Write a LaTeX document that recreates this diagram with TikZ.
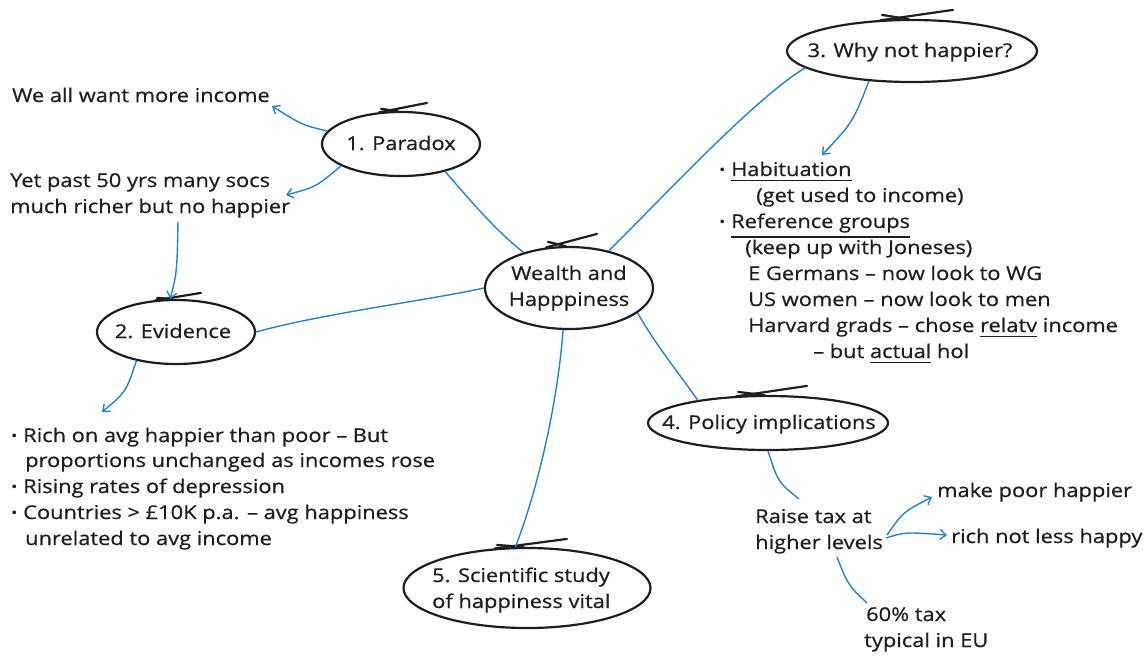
\documentclass[tikz,border=0pt]{standalone}
\usepackage{fontspec}
\setmainfont{Open Sans}[FakeStretch=1.15,FakeBold=0.6]
\usetikzlibrary{shapes.geometric,arrows.meta,calc}
\definecolor{ink}{HTML}{1E1E1E}
\definecolor{linkblue}{HTML}{2384CC}
\newcommand\myul[1]{\setbox0=\hbox{#1}\rlap{\rule[\dimexpr-\dp0-5pt\relax]{\wd0}{1.4pt}}\box0\relax}
\newcommand\mybul{\makebox[13pt][l]{\hspace{1pt}\raisebox{1.5pt}{\fontsize{14}{14}\selectfont\textbullet}}}
\newcommand\ovtick[5]{%
  \draw[tickline] ($(#1.north)+(#2,#3)$) .. controls ($(#1.north)+(0.5*#2,0.4*#3)$) .. ($(#1.north)+(-3,0.5)$);
  \draw[tickline] ($(#1.north)+(#2-2,1.5)$) -- ($(#1.north)+(#4,#5)$);}
\tikzset{
  ell/.style={draw=ink, line width=2.2pt, ellipse, inner sep=0pt},
  lab/.style={text=ink, inner sep=0pt, font=\fontsize{19}{26}\selectfont},
  ln/.style={lab, anchor=base west},
  conn/.style={draw=linkblue, line width=1.4pt},
  arr/.style={conn, -{Straight Barb[length=6pt,width=10pt,line width=1.4pt]}},
  tickline/.style={draw=ink, line width=2.2pt, line cap=round},
}
\begin{document}
\begin{tikzpicture}[x=1pt,y=-1pt]
\useasboundingbox (0,0) rectangle (1145,657);
\fill[white] (0,0) rectangle (1145,657);

% ellipse nodes
\node[ell, minimum width=158pt, minimum height=64pt] (par) at (401,144) {};
\node[lab, anchor=base] (part) at (401,150) {1. Paradox};
\node[ell, minimum width=158pt, minimum height=64pt] (evi) at (176,332) {};
\node[lab, anchor=base] (evit) at (173,338) {2. Evidence};
\node[ell, minimum width=250pt, minimum height=62pt] (why) at (912,51) {};
\node[lab, anchor=base] (whyt) at (910,57) {3. Why not happier?};
\node[ell, minimum width=168pt, minimum height=82pt] (wh) at (569,288) {};
\node[lab, align=center] (wht) at (569,288) {Wealth and\\Happpiness};
\node[ell, minimum width=240pt, minimum height=54pt] (pol) at (768,423) {};
\node[lab, anchor=base] (polt) at (769,429) {4. Policy implications};
\node[ell, minimum width=247pt, minimum height=80pt] (sci) at (527,588) {};
\node[lab, align=left, anchor=west] (scit) at (432,590) {5. Scientific study\\of happiness vital};

\ovtick{par}{-20}{-2}{26}{-8}
\ovtick{why}{-30}{-4}{41}{-9}
\ovtick{wh}{-21}{-4}{28}{-12}
\ovtick{evi}{-19}{-1}{25}{-6}
\ovtick{pol}{-30}{-3}{39}{-9}
\ovtick{sci}{-30}{-2}{40}{-8}

% text nodes
\node[ln] (t1) at (12,102) {We all want more income};
\node[ln] (t2a) at (10,187) {Yet past 50 yrs many socs};
\node[ln] (t2b) at (10,213) {much richer but no happier};

\node[ln] (e1) at (10,442) {\mybul Rich on avg happier than poor – But};
\node[ln] (e2) at (25,467) {proportions unchanged as incomes rose};
\node[ln] (e3) at (10,493) {\mybul Rising rates of depression};
\node[ln] (e4) at (10,519) {\mybul Countries > £10K p.a. – avg happiness};
\node[ln] (e5) at (25,545) {unrelated to avg income};

\node[ln] (r1) at (718,176) {\mybul\myul{Habituation}};
\node[ln] (r2) at (756,202) {(get used to income)};
\node[ln] (r3) at (718,228) {\mybul\myul{Reference groups}};
\node[ln] (r4) at (745,254) {(keep up with Joneses)};
\node[ln] (r5) at (748,280) {E Germans – now look to WG};
\node[ln] (r6) at (748,306) {US women – now look to men};
\node[ln] (r7) at (748,332) {Harvard grads – chose \myul{relatv} income};
\node[ln] (r8) at (813,358) {– but \myul{actual} hol};

\node[ln] (rt1) at (755,523) {Raise tax at};
\node[ln] (rt2) at (755,549) {higher levels};
\node[ln] (mk) at (937,497) {make poor happier};
\node[ln] (rc) at (951,543) {rich not less happy};
\node[ln] (sx1) at (866,621) {60\% tax};
\node[ln] (sx2) at (864,647) {typical in EU};

% connector free ends
\coordinate (c1) at (272,106);
\coordinate (c2) at (286,195);
\coordinate (c3) at (178,222);
\coordinate (c4) at (102,412);
\coordinate (c7) at (822,155);
\coordinate (rtin) at (799,499);
\coordinate (mks) at (887,535);
\coordinate (mke) at (932,497);
\coordinate (rcs) at (886,538);
\coordinate (rce) at (947,535);
\coordinate (sxs) at (837,557);
\coordinate (sxe) at (867,603);

% connectors
\draw[arr] (par.170) .. controls (302,125) .. (c1);
\draw[arr] (par.200) .. controls (316,187) .. (c2);
\draw[arr] (c3) .. controls (177,272) .. (evi.100);
\draw[arr] (evi.216) .. controls (126,392) .. (c4);
\draw[conn] (wh.142) .. controls (495,230) and (470,200) .. (par.-32);
\draw[conn] (wh.43) .. controls (660,200) and (755,98) .. (why.189);
\draw[arr] (why.215) .. controls (853,122) .. (c7);
\draw[conn] (wh.west) .. controls (430,300) and (320,314) .. (evi.east);
\draw[conn] (wh.-20) .. controls (658,348) and (678,372) .. (pol.162);
\draw[conn] (wh.-98) .. controls (556,420) and (532,505) .. (sci.106);
\draw[conn] (pol.south) .. controls (778,482) .. (rtin);
\draw[arr] (mks) .. controls (903,512) .. (mke);
\draw[arr] (rcs) .. controls (905,532) .. (rce);
\draw[conn] (sxs) .. controls (848,585) .. (sxe);
\end{tikzpicture}
\end{document}
